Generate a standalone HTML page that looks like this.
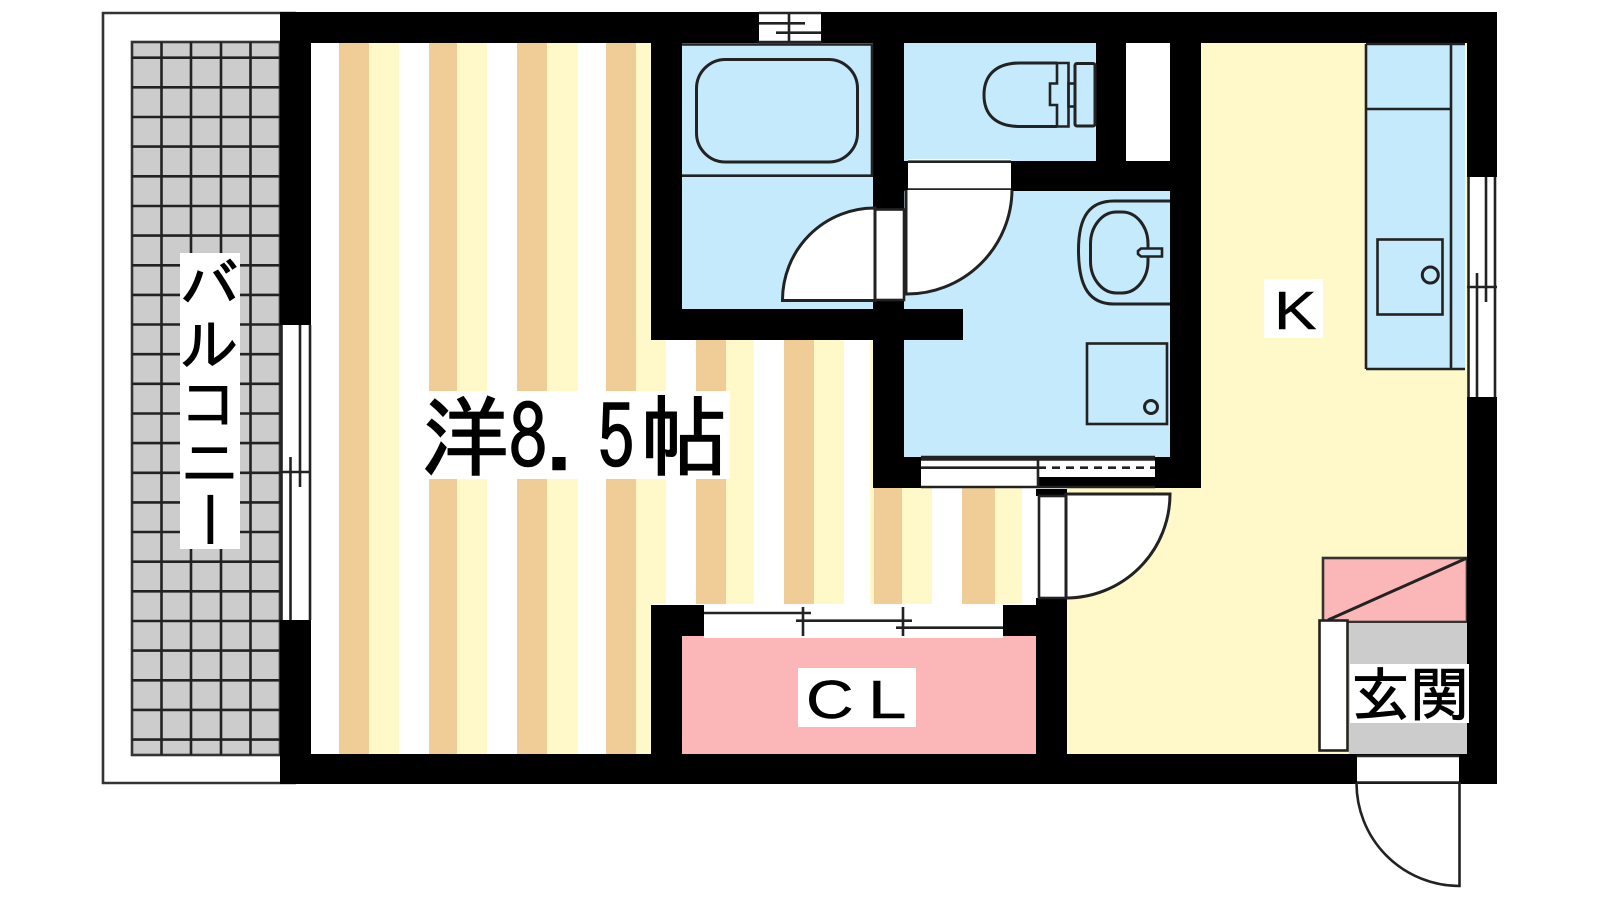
<!DOCTYPE html>
<html><head><meta charset="utf-8"><style>
html,body{margin:0;padding:0;background:#fff;width:1600px;height:900px;overflow:hidden}
svg{display:block}
.j{font-family:"IPAGothic","Noto Sans CJK JP",sans-serif;fill:#000}
.l{font-family:"Liberation Sans",sans-serif;fill:#000}
</style></head><body>
<svg width="1600" height="900" viewBox="0 0 1600 900" xmlns="http://www.w3.org/2000/svg">
<rect width="1600" height="900" fill="#fff"/>
<!-- balcony -->
<path d="M296 13H103V783H296" fill="none" stroke="#333" stroke-width="2.600"/>
<rect x="132" y="42" width="148" height="713" fill="#ccc" stroke="#333" stroke-width="2.600"/>
<path d="M161.5 42V755M191 42V755M221 42V755M250.500 42V755" stroke="#222" stroke-width="2.600" fill="none"/>
<path d="M132 57.700H280M132 87.300H280M132 117H280M132 146.600H280M132 176.300H280M132 206H280M132 235.600H280M132 265.300H280M132 294.900H280M132 324.500H280M132 354.200H280M132 383.800H280M132 413.500H280M132 443.100H280M132 472.800H280M132 502.400H280M132 532H280M132 561.700H280M132 591.300H280M132 621H280M132 650.600H280M132 680.300H280M132 709.900H280M132 739.600H280" stroke="#222" stroke-width="2.600" fill="none"/>
<!-- floors -->
<rect x="311" y="43" width="340" height="711" fill="#fff"/>
<rect x="651" y="340" width="222" height="264" fill="#fff"/>
<rect x="873" y="488" width="163" height="116" fill="#fff"/>
<g fill="#f0cc96">
<rect x="339" y="43" width="30" height="711"/><rect x="429" y="43" width="28" height="711"/><rect x="517" y="43" width="30" height="711"/><rect x="606" y="43" width="30" height="711"/>
<rect x="696" y="340" width="30" height="264"/><rect x="784" y="340" width="30" height="264"/>
<rect x="874" y="488" width="28" height="116"/><rect x="962" y="488" width="33" height="116"/>
</g>
<g fill="#fff8c8">
<rect x="369" y="43" width="30" height="711"/><rect x="457" y="43" width="30" height="711"/><rect x="547" y="43" width="31" height="711"/><rect x="636" y="43" width="15" height="711"/>
<rect x="651" y="340" width="15" height="264"/><rect x="726" y="340" width="28" height="264"/><rect x="814" y="340" width="30" height="264"/><rect x="870" y="340" width="4" height="264"/>
<rect x="902" y="488" width="30" height="116"/><rect x="995" y="488" width="27" height="116"/>
<path d="M1067 488H1201V43H1467V754H1067Z"/>
</g>
<!-- wet rooms -->
<g fill="#c4eafc">
<rect x="682" y="43" width="191" height="266"/>
<rect x="904" y="43" width="192" height="118"/>
<rect x="904" y="191" width="266" height="266"/>
<rect x="1366" y="43" width="99" height="326"/>
</g>
<rect x="1126" y="43" width="44" height="118" fill="#fff"/>
<rect x="682" y="636" width="354" height="118" fill="#fbb6b7"/>
<rect x="1323" y="558" width="144" height="64" fill="#fbb6b7" stroke="#333" stroke-width="2.600"/>
<rect x="1349" y="623" width="118" height="131" fill="#ccc"/>
<!-- walls -->
<g fill="#000">
<rect x="280" y="12" width="1217" height="31"/>
<rect x="280" y="754" width="1217" height="30"/>
<rect x="280" y="12" width="31" height="313"/>
<rect x="280" y="620" width="31" height="135"/>
<rect x="1467" y="12" width="30" height="165"/>
<rect x="1467" y="397" width="30" height="387"/>
<rect x="651" y="12" width="31" height="328"/>
<rect x="651" y="309" width="312" height="31"/>
<rect x="873" y="12" width="31" height="476"/>
<rect x="1096" y="12" width="30" height="179"/>
<rect x="904" y="161" width="296" height="30"/>
<rect x="1170" y="12" width="31" height="476"/>
<rect x="873" y="457" width="328" height="31"/>
<rect x="651" y="605" width="53" height="31"/>
<rect x="651" y="605" width="31" height="150"/>
<rect x="1003" y="605" width="64" height="31"/>
<rect x="1036" y="598" width="31" height="157"/>
<rect x="1036" y="489" width="31" height="7"/>
</g>
<g fill="none" stroke="#222" stroke-width="2.600">
<!-- vent -->
<rect x="759" y="13" width="62" height="29" fill="#fff" stroke="none"/>
<path d="M759 13H821M759 42H821M789 13V42M759 23.300H805M776 32.700H821"/>
<!-- bath -->
<path d="M682 44.500H873M872 44V176M682 175.700H873"/>
<rect x="696.500" y="59.500" width="161" height="102.500" rx="29" stroke-width="3"/>
<!-- bath door -->
<rect x="875" y="209.500" width="29" height="90.500" fill="#fff"/>
<path d="M875 208A92 92 0 0 0 782.500 300.500H875Z" fill="#fff" stroke-width="3"/>
<!-- toilet door -->
<rect x="908" y="159" width="103" height="31" fill="#fff" stroke="none"/>
<path d="M908 161.700H1011M908 189.500H1011"/>
<path d="M905.500 190H1012A105 105 0 0 1 905.500 294Z" fill="#fff" stroke="none"/>
<path d="M906 190V294A105 105 0 0 0 1012 190" stroke-width="3"/>
<!-- toilet -->
<path d="M1057 63H1020C995 63 984 76 984 95C984 114 995 126.500 1020 126.500H1057" stroke-width="3"/>
<path d="M1057 63H1068.500V126.500H1057V105H1050V83.500H1057Z"/>
<rect x="1075" y="63.500" width="20" height="62.500" rx="2" stroke-width="3"/>
<rect x="1068.500" y="83.500" width="6.500" height="23"/>
<!-- basin -->
<path d="M1170 201H1114C1090 201 1078.500 216 1078.500 250C1078.500 288 1090 304 1114 304H1170" stroke-width="3"/>
<rect x="1090.500" y="212" width="57.500" height="81" rx="26" ry="32" stroke-width="3"/>
<path d="M1162 248.500H1141L1138 251V254L1141 256.500H1162Z" fill="#c4eafc"/>
<!-- washer -->
<rect x="1087" y="343.500" width="80" height="80.500"/>
<circle cx="1151" cy="407" r="6.500" stroke-width="3"/>
<!-- wash window -->
<rect x="921" y="457" width="117" height="31" fill="#fff" stroke="none"/>
<rect x="1038" y="459" width="117" height="18" fill="#fff" stroke="none"/>
<path d="M921 457H1155M921 459.500H1155M921 467.700H1038M921 487H1155M1038 457V487"/>
<path d="M1038 467.700H1155" stroke-dasharray="8 6"/>
<!-- entrance door -->
<rect x="1039" y="496" width="27" height="102" fill="#fff"/>
<path d="M1066 494H1170A104 104 0 0 1 1066 598Z" fill="#fff" stroke-width="3"/>
<!-- closet doors -->
<rect x="704" y="605" width="299" height="33" fill="#fff" stroke="none"/>
<path d="M704 613H811M796 620.700H912M896 627.700H1003M803 607V636M903 607V636"/>
<!-- left window -->
<rect x="281" y="325" width="30" height="295" fill="#fff" stroke="none"/>
<path d="M281.500 325V620M300 325V487M290.500 457V620M310 325V620M281 472H311"/>
<!-- right window -->
<rect x="1467" y="177" width="30" height="220" fill="#fff" stroke="none"/>
<path d="M1468.500 177V397M1486 177V302M1477 273V397M1495 177V397M1467 287H1497"/>
<!-- kitchen -->
<path d="M1366 44H1465M1366 44V369M1451 44V369M1366 109H1451M1366 369H1465"/>
<rect x="1377.500" y="239.500" width="65" height="75"/>
<circle cx="1430.300" cy="275" r="8" stroke-width="3"/>
<!-- entry -->
<path d="M1467 558L1328 620" stroke-width="3"/>
<rect x="1319.500" y="620.500" width="28" height="130" fill="#fff"/>
<rect x="1357" y="755" width="102" height="27" fill="#fff" stroke="none"/>
<path d="M1357 756H1459M1357 782.500H1459"/>
<path d="M1356.500 782.500A103 103 0 0 0 1459.500 886V782"/>
</g>
<!-- labels -->
<rect x="180" y="253" width="60" height="296" fill="#fff"/>
<text class="j" font-size="59" x="180" y="307" stroke="#000" stroke-width="1">バ</text>
<text class="j" font-size="59" x="180" y="366" stroke="#000" stroke-width="1">ル</text>
<text class="j" font-size="59" x="180" y="425" stroke="#000" stroke-width="1">コ</text>
<text class="j" font-size="59" x="180" y="484" stroke="#000" stroke-width="1">ニ</text>
<text class="j" font-size="59" transform="translate(188,490) rotate(90)" stroke="#000" stroke-width="1">ー</text>
<rect x="424" y="391" width="306" height="88" fill="#fff"/>
<text class="j" font-size="88" x="421" y="469" stroke="#000" stroke-width="1.500">洋</text>
<text class="j" font-size="88" text-anchor="middle" transform="translate(528,469) scale(.85,1)" stroke="#000" stroke-width="1.500">8</text>
<text class="j" font-size="88" text-anchor="middle" x="567" y="469" stroke="#000" stroke-width="1.500">.</text>
<text class="j" font-size="88" text-anchor="middle" transform="translate(616,469) scale(.85,1)" stroke="#000" stroke-width="1.500">5</text>
<text class="j" font-size="88" x="640" y="469" stroke="#000" stroke-width="1.500">帖</text>
<rect x="798" y="668" width="118" height="59" fill="#fff"/>
<text class="l" font-size="54" transform="translate(806,718) scale(1.22,1)" stroke="#000" stroke-width=".5">C</text>
<text class="l" font-size="54" transform="translate(868,718) scale(1.28,1)" stroke="#000" stroke-width=".5">L</text>
<rect x="1264" y="279" width="59" height="59" fill="#fff"/>
<text class="l" font-size="54" transform="translate(1274,329) scale(1.18,1)" stroke="#000" stroke-width=".5">K</text>
<rect x="1350" y="664" width="119" height="59" fill="#fff"/>
<text class="j" font-size="59" x="1351" y="716" stroke="#000" stroke-width="1">玄関</text>
</svg>
</body></html>
